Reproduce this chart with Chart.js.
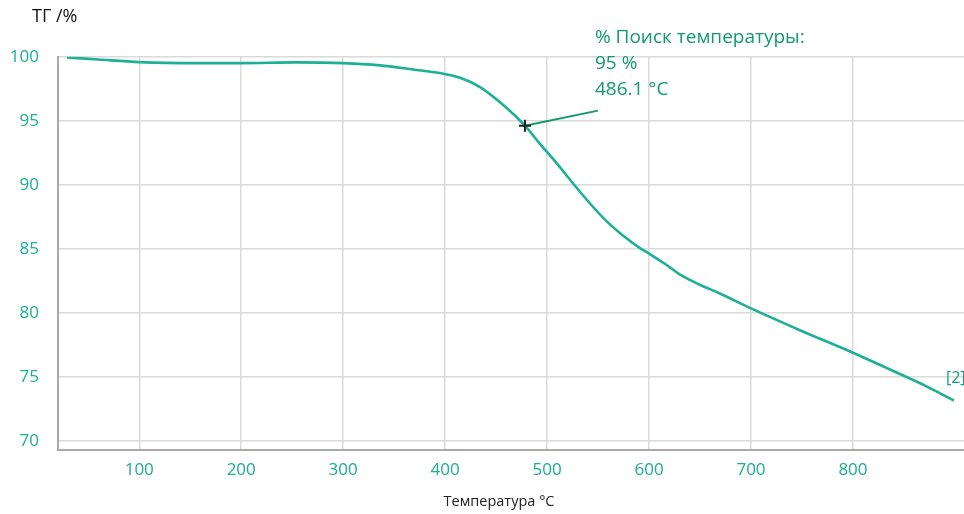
<!DOCTYPE html>
<html>
<head>
<meta charset="utf-8">
<script src="https://cdn.jsdelivr.net/npm/chart.js@4/dist/chart.umd.min.js"></script>
<style>
html,body{margin:0;padding:0;background:#fff;}
#wrap{width:964px;height:514px;}
</style>
</head>
<body>
<div id="wrap"><canvas id="c" width="964" height="514"></canvas></div>
<script>
// Data
const temperatures = [29, 60, 100, 156, 200, 254, 300, 336, 368.6, 395, 414.6, 434.2, 453.8, 466.8, 478.3, 493, 507.7, 525.7, 542.1, 558.5, 574.7, 591.1, 600.2, 617.3, 630, 649.7, 669, 700, 748, 800, 846, 872.6, 899];
const massPercent  = [99.94, 99.78, 99.58, 99.50, 99.50, 99.56, 99.50, 99.32, 99.00, 98.72, 98.35, 97.63, 96.45, 95.53, 94.61, 93.19, 91.85, 90.08, 88.54, 87.14, 86.02, 85.06, 84.62, 83.74, 83.00, 82.20, 81.53, 80.35, 78.65, 76.89, 75.23, 74.25, 73.16];
const markerPoint = [{x: 478.3, y: 94.61}];
const leaderLine  = [{x: 478.3, y: 94.61}, {x: 549.9, y: 95.79}];
const xTickValues = [100, 200, 300, 400, 500, 600, 700, 800];
const yTickValues = [70, 75, 80, 85, 90, 95, 100];
const annotationLines = ['% Поиск температуры:', '95 %', '486.1 °C'];
const seriesLabel = '[2]';
const xTitle = 'Температура °C';
const yTitle = 'ТГ /%';

const FONT = "'Open Sans', 'Noto Sans', sans-serif";
const TEAL = '#1cb195';
const TICK = '#1aae92';
const DARKGREEN = '#119b6c';

const textPlugin = {
  id: 'texts',
  afterDraw(chart) {
    const ctx = chart.ctx;
    const xs = chart.scales.x, ys = chart.scales.y;
    ctx.save();
    // y axis title
    ctx.fillStyle = '#111';
    ctx.font = '18px ' + FONT;
    ctx.textBaseline = 'middle';
    ctx.textAlign = 'left';
    ctx.fillText(yTitle, 32, 17);
    // x axis title
    ctx.fillStyle = '#222';
    ctx.font = '14.5px ' + FONT;
    ctx.textAlign = 'center';
    ctx.fillText(xTitle, 499, 502);
    // annotation
    const end = leaderLine[leaderLine.length - 1];
    const ax = xs.getPixelForValue(end.x) - 3;
    const ay = ys.getPixelForValue(end.y);
    ctx.fillStyle = DARKGREEN;
    ctx.font = '19px ' + FONT;
    ctx.textAlign = 'left';
    annotationLines.forEach((t, i) => {
      ctx.fillText(t, ax, ay - 73 + i * 26);
    });
    // series label
    const last = temperatures.length - 1;
    ctx.fillStyle = '#17a07f';
    ctx.font = '16px ' + FONT;
    ctx.fillText(seriesLabel, xs.getPixelForValue(temperatures[last]) - 8, ys.getPixelForValue(massPercent[last]) - 22);
    ctx.restore();
  }
};

new Chart(document.getElementById('c'), {
  type: 'line',
  data: {
    datasets: [
      {
        label: seriesLabel,
        data: temperatures.map((t, i) => ({x: t, y: massPercent[i]})),
        borderColor: TEAL,
        borderWidth: 2.6,
        pointRadius: 0,
        cubicInterpolationMode: 'monotone',
        fill: false,
        order: 2
      },
      {
        label: 'leader',
        data: leaderLine,
        borderColor: DARKGREEN,
        borderWidth: 2,
        pointRadius: 0,
        fill: false,
        order: 1
      },
      {
        label: 'marker',
        data: markerPoint,
        showLine: false,
        pointStyle: 'cross',
        pointRadius: 6,
        pointBorderWidth: 2,
        pointBorderColor: '#222',
        pointBackgroundColor: '#222',
        order: 0
      }
    ]
  },
  options: {
    responsive: false,
    animation: false,
    layout: {autoPadding: false, padding: {top: 56.7, right: 0, left: 0, bottom: 0}},
    plugins: {legend: {display: false}, tooltip: {enabled: false}},
    scales: {
      x: {
        type: 'linear',
        min: 20.3,
        max: 908.9,
        afterBuildTicks(scale) { scale.ticks = xTickValues.map(v => ({value: v})); },
        afterFit(scale) { scale.height = 64.3; scale.paddingLeft = 0; scale.paddingRight = 0; },
        grid: {color: '#dadada', lineWidth: 1.5, drawTicks: false},
        border: {color: '#a9a9a9', width: 2},
        ticks: {color: TICK, font: {family: FONT, size: 17}, padding: 10, maxRotation: 0}
      },
      y: {
        type: 'linear',
        min: 69.32,
        max: 100,
        afterBuildTicks(scale) { scale.ticks = yTickValues.map(v => ({value: v})); },
        afterFit(scale) { scale.width = 58; },
        grid: {color: '#dadada', lineWidth: 1.5, drawTicks: false},
        border: {color: '#a9a9a9', width: 2},
        ticks: {color: TICK, font: {family: FONT, size: 17}, padding: 19}
      }
    }
  },
  plugins: [textPlugin]
});
</script>
</body>
</html>
